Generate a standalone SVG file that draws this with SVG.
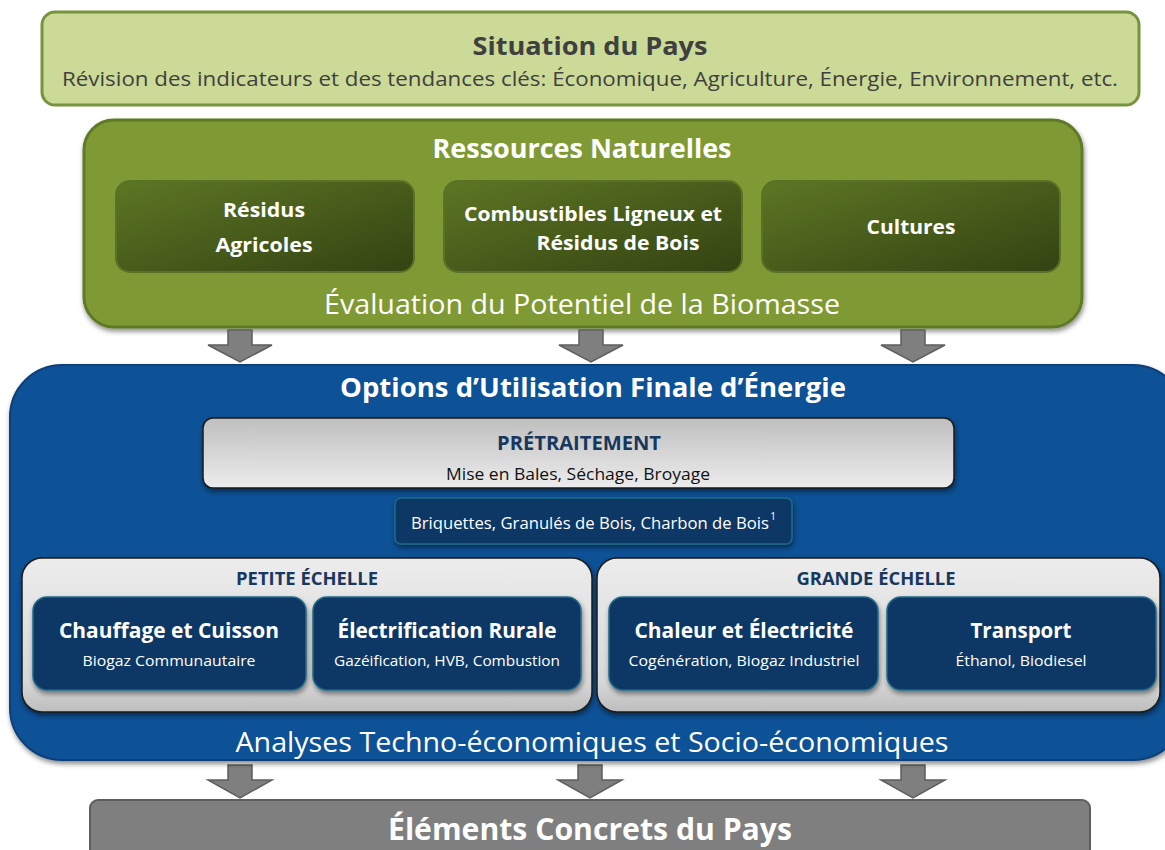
<svg xmlns="http://www.w3.org/2000/svg" width="1165" height="850" viewBox="0 0 1165 850">
<defs>
<style>
text{font-family:"Open Sans","Noto Sans","Liberation Sans",sans-serif;text-anchor:middle}
.b{font-weight:bold}
.w{fill:#ffffff}
.nav{fill:#17375e}
.res{fill:url(#gOlive);stroke:#5a7226;stroke-width:2}
.dk{fill:#0b3866;stroke:#1f6b86;stroke-width:1.5}
.arr{fill:#7f7f7f;stroke:#5e5e5e;stroke-width:1.5}
</style>
<linearGradient id="gOlive" x1="0" y1="0" x2="1" y2="1">
<stop offset="0" stop-color="#5d7624"/><stop offset="1" stop-color="#334312"/>
</linearGradient>
<linearGradient id="gGray" x1="0" y1="0" x2="0" y2="1">
<stop offset="0" stop-color="#bfbfbf"/><stop offset="1" stop-color="#ececec"/>
</linearGradient>
<linearGradient id="gGray2" x1="0" y1="0" x2="0" y2="1">
<stop offset="0" stop-color="#ececec"/><stop offset="0.8" stop-color="#d8d8d8"/><stop offset="1" stop-color="#bdbdbd"/>
</linearGradient>
<filter id="sh" x="-5%" y="-10%" width="110%" height="130%">
<feDropShadow dx="1" dy="3" stdDeviation="2.5" flood-color="#000" flood-opacity="0.45"/>
</filter>
</defs>

<g id="situation">
<rect x="42" y="12" width="1097" height="93" rx="13" fill="#cbda97" stroke="#77933c" stroke-width="3"/>
<text x="590" y="55" class="b" font-size="25" fill="#404040" textLength="235" lengthAdjust="spacingAndGlyphs">Situation du Pays</text>
<text x="590" y="86" font-size="20" fill="#404040" textLength="1056" lengthAdjust="spacingAndGlyphs">Révision des indicateurs et des tendances clés: Économique, Agriculture, Énergie, Environnement, etc.</text>
</g>

<g id="ressources">
<rect x="84" y="120" width="998" height="207" rx="30" fill="#7f9a34" stroke="#5f7a26" stroke-width="3" filter="url(#sh)"/>
<text x="582" y="158" class="b w" font-size="27" textLength="299" lengthAdjust="spacingAndGlyphs">Ressources Naturelles</text>
<text x="582" y="314" class="w" font-size="28" textLength="516" lengthAdjust="spacingAndGlyphs">Évaluation du Potentiel de la Biomasse</text>
</g>
<g id="residus-agricoles">
<rect class="res" x="116" y="181" width="298" height="91" rx="14"/>
<text x="264" y="217" class="b w" font-size="20" textLength="82" lengthAdjust="spacingAndGlyphs">Résidus</text>
<text x="264" y="252" class="b w" font-size="20" textLength="97" lengthAdjust="spacingAndGlyphs">Agricoles</text>
</g>
<g id="combustibles">
<rect class="res" x="444" y="181" width="298" height="91" rx="14"/>
<text x="593" y="221" class="b w" font-size="20" textLength="258" lengthAdjust="spacingAndGlyphs">Combustibles Ligneux et</text>
<text x="618" y="250" class="b w" font-size="20" textLength="163" lengthAdjust="spacingAndGlyphs">Résidus de Bois</text>
</g>
<g id="cultures">
<rect class="res" x="762" y="181" width="298" height="91" rx="14"/>
<text x="911" y="234" class="b w" font-size="20" textLength="89" lengthAdjust="spacingAndGlyphs">Cultures</text>
</g>

<g id="connectors">
<path class="arr" d="M228,330 H252 V345 H272 L240,362 L208,345 H228 Z"/>
<path class="arr" d="M579,330 H603 V345 H623 L591,362 L559,345 H579 Z"/>
<path class="arr" d="M901,330 H925 V345 H945 L913,362 L881,345 H901 Z"/>
<path class="arr" d="M228,765 H252 V780 H272 L240,798 L208,780 H228 Z"/>
<path class="arr" d="M578,765 H602 V780 H622 L590,798 L558,780 H578 Z"/>
<path class="arr" d="M901,765 H925 V780 H945 L913,798 L881,780 H901 Z"/>
</g>

<g id="options">
<rect x="10" y="365" width="1175" height="395" rx="52" fill="#0e5196" stroke="#0a3f78" stroke-width="2" filter="url(#sh)"/>
<text x="593" y="397" class="b w" font-size="27" textLength="506" lengthAdjust="spacingAndGlyphs">Options d’Utilisation Finale d’Énergie</text>
<text x="592" y="752" class="w" font-size="28" textLength="713" lengthAdjust="spacingAndGlyphs">Analyses Techno-économiques et Socio-économiques</text>
</g>

<g id="pretraitement">
<rect x="203" y="418" width="751" height="70" rx="10" fill="url(#gGray)" stroke="#1a1a1a" stroke-width="1.5" filter="url(#sh)"/>
<text x="579" y="450" class="b nav" font-size="19" textLength="164" lengthAdjust="spacingAndGlyphs">PRÉTRAITEMENT</text>
<text x="578" y="480" font-size="17" fill="#111" textLength="264" lengthAdjust="spacingAndGlyphs">Mise en Bales, Séchage, Broyage</text>
</g>

<g id="briquettes">
<rect x="395" y="498" width="397" height="46" rx="6" fill="#0b3866" stroke="#1f6b86" stroke-width="1.5" filter="url(#sh)"/>
<text x="590" y="529" class="w" font-size="16" textLength="358" lengthAdjust="spacingAndGlyphs">Briquettes, Granulés de Bois, Charbon de Bois</text>
<text x="773" y="520" class="w" font-size="10">1</text>
</g>

<g id="petite-echelle">
<rect x="22" y="558" width="570" height="154" rx="20" fill="url(#gGray2)" stroke="#1a1a1a" stroke-width="1.5" filter="url(#sh)"/>
<text x="307" y="585" class="b nav" font-size="17" textLength="142" lengthAdjust="spacingAndGlyphs">PETITE ÉCHELLE</text>
</g>
<g id="grande-echelle">
<rect x="597" y="558" width="563" height="154" rx="20" fill="url(#gGray2)" stroke="#1a1a1a" stroke-width="1.5" filter="url(#sh)"/>
<text x="876" y="585" class="b nav" font-size="17" textLength="159" lengthAdjust="spacingAndGlyphs">GRANDE ÉCHELLE</text>
</g>

<g id="chauffage">
<rect class="dk" x="33" y="597" width="273" height="93" rx="14" filter="url(#sh)"/>
<text x="169" y="638" class="b w" font-size="21" textLength="220" lengthAdjust="spacingAndGlyphs">Chauffage et Cuisson</text>
<text x="169" y="666" class="w" font-size="15" textLength="173" lengthAdjust="spacingAndGlyphs">Biogaz Communautaire</text>
</g>
<g id="electrification">
<rect class="dk" x="313" y="597" width="268" height="93" rx="14" filter="url(#sh)"/>
<text x="447" y="638" class="b w" font-size="21" textLength="219" lengthAdjust="spacingAndGlyphs">Électrification Rurale</text>
<text x="447" y="666" class="w" font-size="15" textLength="226" lengthAdjust="spacingAndGlyphs">Gazéification, HVB, Combustion</text>
</g>
<g id="chaleur">
<rect class="dk" x="609" y="597" width="269" height="93" rx="14" filter="url(#sh)"/>
<text x="744" y="638" class="b w" font-size="21" textLength="219" lengthAdjust="spacingAndGlyphs">Chaleur et Électricité</text>
<text x="744" y="666" class="w" font-size="15" textLength="231" lengthAdjust="spacingAndGlyphs">Cogénération, Biogaz Industriel</text>
</g>
<g id="transport">
<rect class="dk" x="887" y="597" width="269" height="93" rx="14" filter="url(#sh)"/>
<text x="1021" y="638" class="b w" font-size="21" textLength="101" lengthAdjust="spacingAndGlyphs">Transport</text>
<text x="1021" y="666" class="w" font-size="15" textLength="131" lengthAdjust="spacingAndGlyphs">Éthanol, Biodiesel</text>
</g>

<g id="elements-concrets">
<rect x="90" y="800" width="1000" height="70" rx="8" fill="#7f7f7f" stroke="#5e5e5e" stroke-width="2"/>
<text x="590" y="840" class="b w" font-size="31" textLength="404" lengthAdjust="spacingAndGlyphs">Éléments Concrets du Pays</text>
</g>
</svg>
